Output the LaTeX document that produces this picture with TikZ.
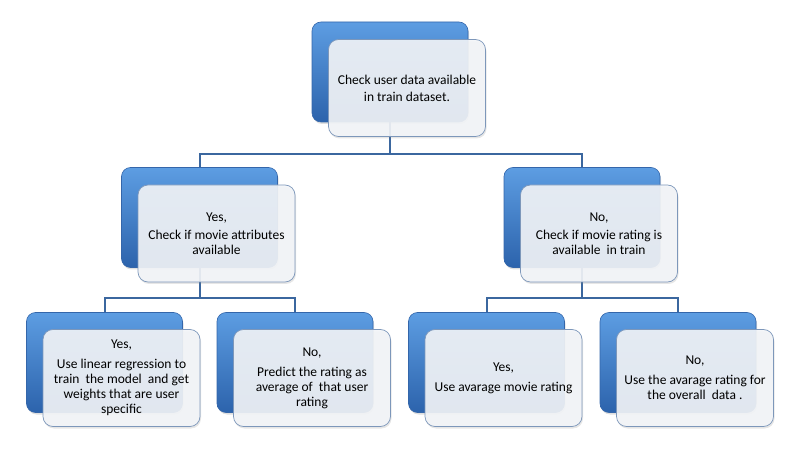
\documentclass[tikz,border=0pt]{standalone}
\usepackage{fontspec}
\setmainfont{Carlito}
\usetikzlibrary{shadows,backgrounds}
\definecolor{bluetop}{HTML}{5D9DE2}
\definecolor{bluebot}{HTML}{2C63AC}
\definecolor{blueedge}{HTML}{3466AA}
\definecolor{lightfill}{HTML}{F3F5F8}
\definecolor{lightedge}{HTML}{7D97BA}
\definecolor{conn}{HTML}{3B679F}
\begin{document}
\begin{tikzpicture}[x=1pt,y=-1pt,
  bluebox/.style={rectangle, rounded corners=9pt, minimum width=156pt, minimum height=100pt,
    top color=bluetop, bottom color=bluebot, draw=blueedge, line width=0.6pt,
    drop shadow={shadow xshift=1pt, shadow yshift=-2pt, opacity=0.25}},
  textbox/.style={rectangle, rounded corners=10pt, minimum width=157pt, minimum height=97pt,
    fill=lightfill, fill opacity=0.9, text opacity=1, draw=lightedge, line width=0.7pt,
    align=center, font=\fontsize{13.5}{15}\selectfont,
    drop shadow={shadow xshift=1pt, shadow yshift=-2pt, opacity=0.2}},
  link/.style={draw=conn, line width=2pt}]
\useasboundingbox (0,0) rectangle (798,454);
% level 0
\node[bluebox] (b0) at (390,72) {};
\node[textbox, font=\fontsize{13.5}{17}\selectfont] (t0) at (407,88) {Check user data available\\in train dataset.};
% level 1
\node[bluebox] (b1) at (199.5,217.5) {};
\node[textbox] (t1) at (216.5,233.5) {Yes,\\[3pt]Check if movie attributes\\available};
\node[bluebox] (b2) at (582,217.5) {};
\node[textbox] (t2) at (599,233.5) {No,\\[3pt]Check if movie rating is\\available\ \ in train};
% level 2
\node[bluebox] (b3) at (104.5,362.5) {};
\node[textbox] (t3) at (121.5,378) {Yes,\\[5pt]Use linear regression to\\train\ \ the model\ \ and get\\weights that are user\\specific};
\node[bluebox] (b4) at (295,362.5) {};
\node[textbox] (t4) at (312,378) {No,\\[5pt]Predict the rating as\\average of\ \ that user\\rating};
\node[bluebox] (b5) at (486.5,362.5) {};
\node[textbox] (t5) at (503.5,378) {Yes,\\[5pt]Use avarage movie rating};
\node[bluebox] (b6) at (678,362.5) {};
\node[textbox] (t6) at (695,378) {No,\\[5pt]Use the avarage rating for\\the overall\ \ data .};
% connectors
\coordinate (h0) at (390,154);
\coordinate (h1) at (199.5,298);
\coordinate (h2) at (582,298);
\begin{scope}[on background layer]
\draw[link] (b0.center) -- (h0);
\draw[link] (b1.center) |- (h0) -| (b2.center);
\draw[link] (b1.center) -- (h1);
\draw[link] (b3.center) |- (h1) -| (b4.center);
\draw[link] (b2.center) -- (h2);
\draw[link] (b5.center) |- (h2) -| (b6.center);
\end{scope}
\end{tikzpicture}
\end{document}
